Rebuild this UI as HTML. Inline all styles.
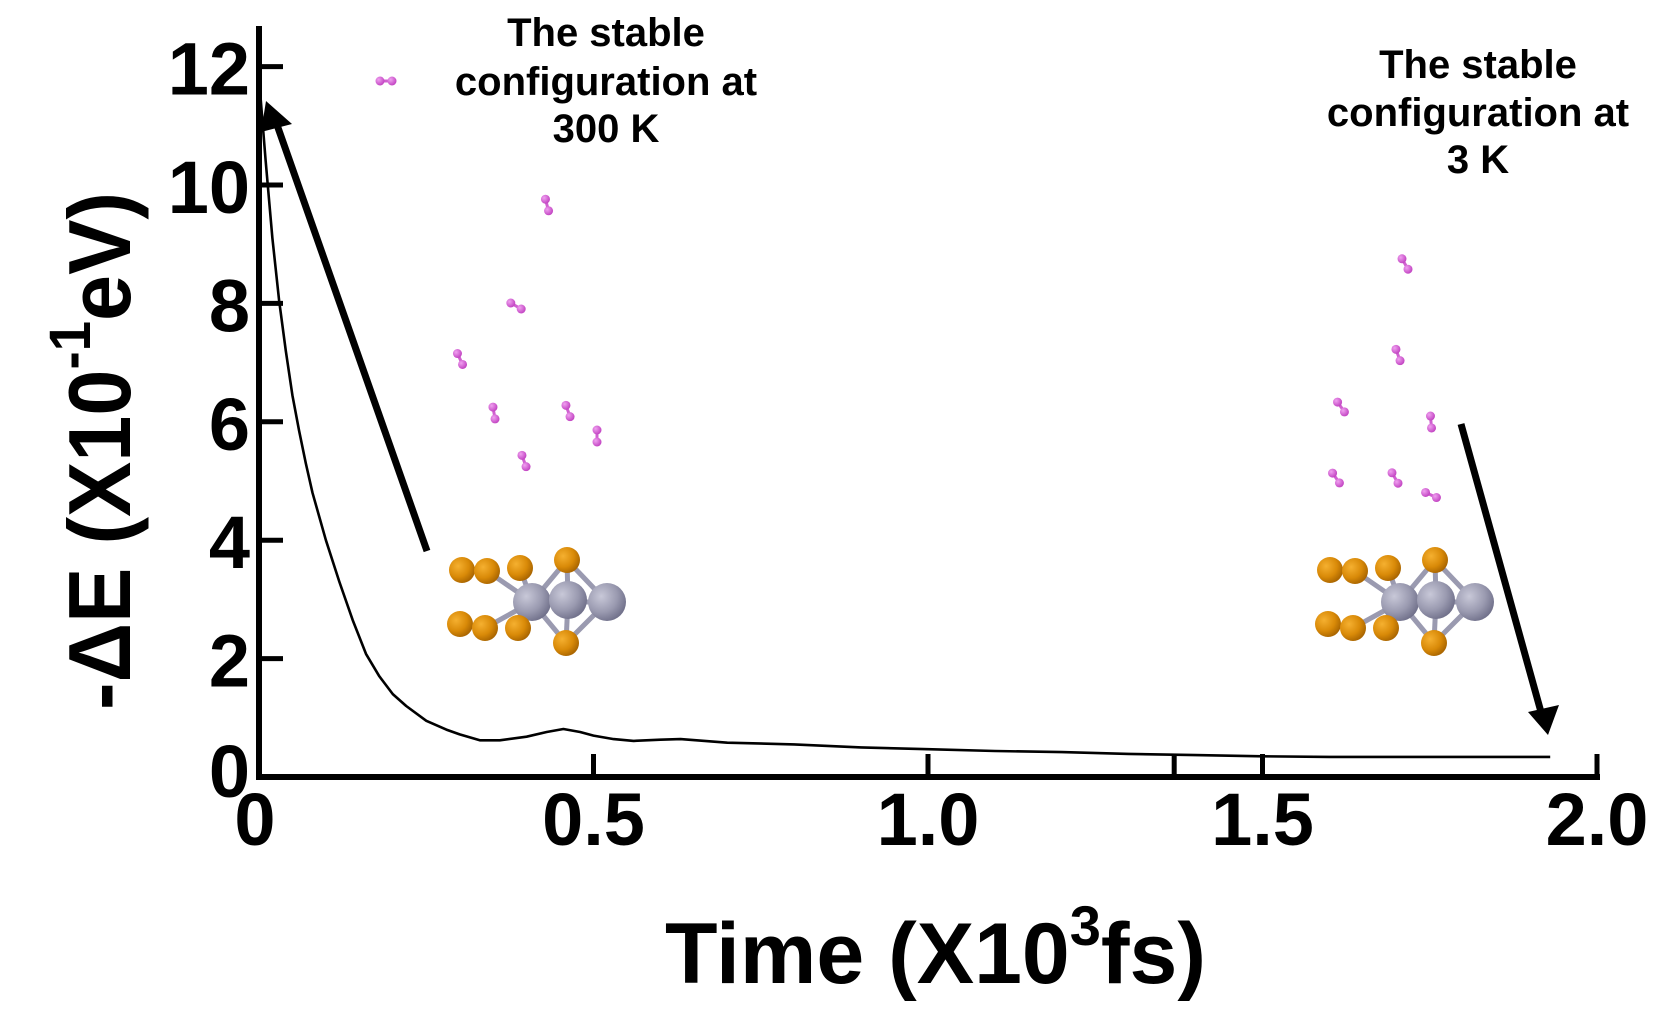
<!DOCTYPE html>
<html><head><meta charset="utf-8"><style>
html,body{margin:0;padding:0;background:#fff;}
svg{display:block;font-family:"Liberation Sans",Arial,sans-serif;font-weight:bold;}
</style></head><body>
<svg id="chart" width="1668" height="1021" viewBox="0 0 1668 1021" xmlns="http://www.w3.org/2000/svg">
<defs>
<radialGradient id="gOr" cx="35%" cy="35%" r="70%"><stop offset="0" stop-color="#f5b030"/><stop offset="0.6" stop-color="#d98a08"/><stop offset="1" stop-color="#a86400"/></radialGradient>
<radialGradient id="gGr" cx="35%" cy="35%" r="70%"><stop offset="0" stop-color="#c8c8d8"/><stop offset="0.6" stop-color="#9a9ab0"/><stop offset="1" stop-color="#70708a"/></radialGradient>
<radialGradient id="gPk" cx="35%" cy="35%" r="70%"><stop offset="0" stop-color="#f0a0f0"/><stop offset="1" stop-color="#c040c0"/></radialGradient>
</defs>
<g id="axes"></g>
<g id="series"></g>
<g id="mols"></g>
<g font-size="40" text-anchor="middle">
<text x="606" y="46">The stable</text>
<text x="606" y="95">configuration at</text>
<text x="606" y="142">300 K</text>
</g>
<g font-size="40" text-anchor="middle">
<text x="1478" y="78">The stable</text>
<text x="1478" y="126">configuration at</text>
<text x="1478" y="173">3 K</text>
</g>
<g>
<line x1="427" y1="551" x2="276" y2="122" stroke="#000" stroke-width="7"/>
<polygon points="266,101 292,124 261,132" fill="#000"/>
</g>
<g>
<line x1="1461" y1="424" x2="1541" y2="712" stroke="#000" stroke-width="7"/>
<polygon points="1548,735 1528,712 1559,705" fill="#000"/>
</g>
<text x="665" y="983" font-size="86" textLength="541" lengthAdjust="spacingAndGlyphs">Time (X10<tspan dy="-38" font-size="56">3</tspan><tspan dy="38">fs)</tspan></text>
<text transform="translate(130,710) rotate(-90)" x="0" y="0" font-size="88" textLength="518" lengthAdjust="spacingAndGlyphs">-ΔE (X10<tspan dy="-40" font-size="58">-1</tspan><tspan dy="40">eV)</tspan></text>
</svg>
<script>
const times = [0,0.01,0.02,0.03,0.04,0.05,0.06,0.07,0.08,0.09,0.10,0.12,0.14,0.16,0.18,0.20,0.22,0.25,0.28,0.30,0.33,0.36,0.40,0.43,0.455,0.48,0.50,0.53,0.56,0.60,0.63,0.70,0.80,0.90,1.00,1.10,1.20,1.30,1.40,1.50,1.60,1.70,1.80,1.93];
const energies = [11.8,10.4,9.1,8.05,7.2,6.45,5.85,5.3,4.8,4.4,4.0,3.3,2.65,2.08,1.7,1.4,1.2,0.95,0.8,0.72,0.62,0.62,0.68,0.76,0.81,0.76,0.70,0.64,0.61,0.63,0.64,0.58,0.55,0.50,0.47,0.44,0.42,0.39,0.37,0.35,0.34,0.34,0.34,0.34];
const xTicks = [0,0.5,1.0,1.5,2.0];
const xTickLabels = ["0","0.5","1.0","1.5","2.0"];
const yTicks = [0,2,4,6,8,10,12];
const yTickLabels = ["0","2","4","6","8","10","12"];
const extraXTicks = [1.368];

const NS="http://www.w3.org/2000/svg";
const X0=259,XS=669,Y0=777,YS=59.2;
function xs(t){return X0+XS*t;}
function ys(v){return Y0-YS*v;}
function mk(tag,attrs,parent){const e=document.createElementNS(NS,tag);for(const k in attrs)e.setAttribute(k,attrs[k]);parent.appendChild(e);return e;}

const axes=document.getElementById('axes');
let yl=mk('line',{x1:X0,y1:26,x2:X0,y2:Y0+2,stroke:'#000','stroke-width':6},axes);


let xl=mk('line',{x1:X0-3,y1:Y0,x2:xs(2.0)+3,y2:Y0,stroke:'#000','stroke-width':6},axes);


yTicks.forEach((v,i)=>{
  const tk=mk('line',{x1:X0,y1:ys(v),x2:X0+24,y2:ys(v),stroke:'#000','stroke-width':5},axes);
  
  
  const lb=mk('text',{x:250,y:(v===0?797:ys(v)+28),'text-anchor':'end','font-size':74},axes);
  lb.textContent=yTickLabels[i];
  
  
});
xTicks.forEach((t,i)=>{
  if(t>0){
    const tk=mk('line',{x1:xs(t),y1:Y0,x2:xs(t),y2:Y0-23,stroke:'#000','stroke-width':5},axes);
    
    
  }
  const lb=mk('text',{x:(t===0?255:xs(t)),y:845,'text-anchor':'middle','font-size':74},axes);
  lb.textContent=xTickLabels[i];
  
  
});
extraXTicks.forEach(t=>{
  const tk=mk('line',{x1:xs(t),y1:Y0,x2:xs(t),y2:Y0-23,stroke:'#000','stroke-width':5},axes);
  
  
});

const series=document.getElementById('series');
const pts=times.map((t,i)=>xs(t).toFixed(1)+','+ys(energies[i]).toFixed(1)).join(' ');
const pl=mk('polyline',{points:pts,fill:'none',stroke:'#000','stroke-width':2.6,'stroke-linejoin':'round'},series);



const mols=document.getElementById('mols');
function cluster(dx,name){
  const g=mk('g',{},mols);
  
  
  const gray=[[532,602],[568,600],[607,602]];
  const orT=[[462,570],[487,571],[520,568],[567,560]];
  const orB=[[460,624],[485,628],[518,628],[566,643]];
  const bonds=[[520,568,532,602],[567,560,532,602],[567,560,607,602],[567,560,568,600],[518,628,532,602],[566,643,532,602],[566,643,607,602],[566,643,568,600],[532,602,607,602],[485,628,532,602],[487,571,532,602]];
  bonds.forEach(b=>mk('line',{x1:b[0]+dx,y1:b[1],x2:b[2]+dx,y2:b[3],stroke:'#9a9ab0','stroke-width':5},g));
  gray.forEach(p=>mk('circle',{cx:p[0]+dx,cy:p[1],r:19,fill:'url(#gGr)'},g));
  orT.concat(orB).forEach(p=>mk('circle',{cx:p[0]+dx,cy:p[1],r:13,fill:'url(#gOr)'},g));
}
cluster(0,'cluster-300k');
cluster(868,'cluster-3k');
const dimers=[[386,81,0],[547,205,75],[516,306,30],[460,359,65],[494,413,80],[568,411,70],[597,436,90],[524,461,70],
[1405,264,60],[1398,355,70],[1341,407,55],[1431,422,85],[1336,478,55],[1395,478,60],[1431,495,25]];
dimers.forEach(d=>{
  const a=d[2]*Math.PI/180,dx=Math.cos(a)*6,dy=Math.sin(a)*6;
  const g=mk('g',{},mols);
  
  
  mk('line',{x1:d[0]-dx,y1:d[1]-dy,x2:d[0]+dx,y2:d[1]+dy,stroke:'#d060d0','stroke-width':3},g);
  mk('circle',{cx:d[0]-dx,cy:d[1]-dy,r:4.5,fill:'url(#gPk)'},g);
  mk('circle',{cx:d[0]+dx,cy:d[1]+dy,r:4.5,fill:'url(#gPk)'},g);
});
</script>
</body></html>
